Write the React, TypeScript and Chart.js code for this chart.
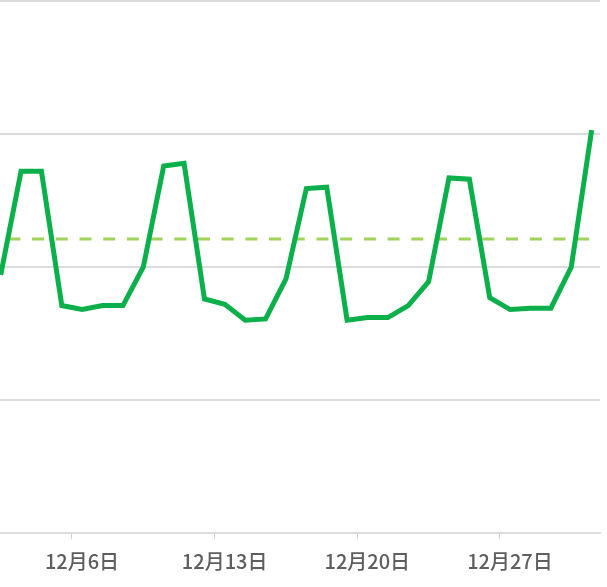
import React, { useEffect, useRef } from "react";
import { Chart, registerables } from "chart.js";

Chart.register(...registerables);

// Days of December (each value plotted at mid-day)
const days = [2, 3, 4, 5, 6, 7, 8, 9, 10, 11, 12, 13, 14, 15, 16, 17, 18, 19, 20, 21, 22, 23, 24, 25, 26, 27, 28, 29, 30, 31];
const values = [194, 272, 272, 171, 168, 171, 171, 200, 276, 278, 176, 172, 160, 161, 191, 259, 260, 160, 162, 162, 171, 189, 267, 266, 177, 168, 169, 169, 200, 303];
const averageValue = [221];
const tickDays = [6, 13, 20, 27];
const tickLabels = ["12月6日", "12月13日", "12月20日", "12月27日"];

export default function App() {
  const ref = useRef<HTMLCanvasElement | null>(null);

  useEffect(() => {
    if (!ref.current) return;
    const lineData = days.map((d, i) => ({ x: d + 0.5, y: values[i] }));
    const avgData = [
      { x: days[0] + 0.5, y: averageValue[0] },
      { x: days[days.length - 1] + 0.5, y: averageValue[0] },
    ];
    const chart = new Chart(ref.current, {
      type: "line",
      data: {
        datasets: [
          {
            data: lineData,
            borderColor: "#0bb04b",
            borderWidth: 5,
            pointRadius: 0,
            tension: 0,
            fill: false,
          },
          {
            data: avgData,
            borderColor: "#9fd35c",
            borderWidth: 3,
            borderDash: [12, 11.7],
            borderDashOffset: 16,
            pointRadius: 0,
            fill: false,
          },
        ],
      },
      options: {
        animation: false,
        responsive: false,
        layout: { padding: { left: 0, right: 7, top: 1, bottom: 4 } },
        plugins: { legend: { display: false }, tooltip: { enabled: false } },
        scales: {
          x: {
            type: "linear",
            min: 2.467,
            max: 31.91,
            afterBuildTicks: (scale: any) => {
              scale.ticks = tickDays.map((v) => ({ value: v }));
            },
            grid: {
              drawOnChartArea: false,
              drawTicks: true,
              tickLength: 6,
              color: "#cfcfcf",
              lineWidth: 1,
            },
            border: { display: true, color: "#dcdcdc", width: 2 },
            ticks: {
              autoSkip: false,
              maxRotation: 0,
              padding: 10,
              labelOffset: 10,
              color: "#5e5e5e",
              font: { family: "'Noto Sans CJK SC', 'Noto Sans', sans-serif", size: 20, weight: "500" },
              callback: (v: any) => {
                const idx = tickDays.indexOf(Number(v));
                return idx >= 0 ? tickLabels[idx] : "";
              },
            },
          },
          y: {
            min: 0,
            max: 400,
            ticks: { display: false, stepSize: 100 },
            grid: { color: "#dcdcdc", lineWidth: 2, drawTicks: false },
            border: { display: false },
          },
        },
      },
    });
    return () => chart.destroy();
  }, []);

  return (
    <div style={{ position: "fixed", left: 0, top: 0, width: 607, height: 587, background: "#fff" }}>
      <canvas ref={ref} width={607} height={587} />
    </div>
  );
}
